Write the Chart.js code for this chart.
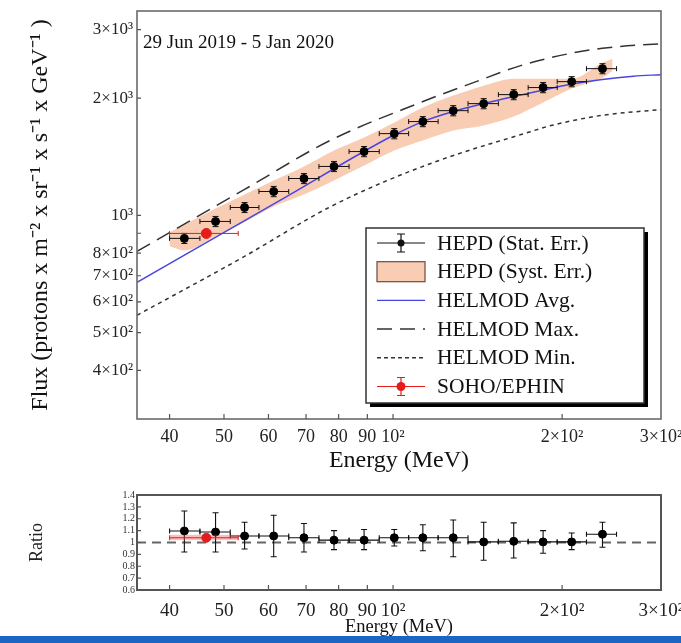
<!DOCTYPE html>
<html>
<head>
<meta charset="utf-8">
<script src="https://cdn.jsdelivr.net/npm/chart.js@4.4.1/dist/chart.umd.min.js"></script>
<style>
  html, body { margin: 0; padding: 0; background: #fff; }
  #wrap { position: relative; width: 681px; height: 643px; overflow: hidden; background: #fff; }
  #flux { position: absolute; left: 0; top: 0; }
  #ratio { position: absolute; left: 0; top: 480px; }
  #strip { position: absolute; left: 0; top: 636px; width: 681px; height: 7px; background: #1a66c2; }
</style>
</head>
<body>
<div id="wrap">
  <canvas id="flux" width="681" height="475"></canvas>
  <canvas id="ratio" width="681" height="156"></canvas>
  <div id="strip"></div>
</div>
<script>
const SERIF = "'Liberation Serif', 'Times New Roman', serif";

// HEPD proton flux, 29 Jun 2019 - 5 Jan 2020 (MeV, protons / m2 sr s GeV)
const hepdEnergy   = [42.5, 48.3, 54.4, 61.3, 69.4, 78.5, 88.8, 100.5, 113, 128, 145, 164, 185, 208, 236];
const hepdBinEdges = [40, 45.3, 51.3, 57.7, 65.2, 73.8, 83.5, 94.5, 106.6, 120.3, 136, 154, 174, 196, 221, 250];
const hepdFlux     = [873, 965, 1048, 1152, 1244, 1336, 1459, 1622, 1742, 1858, 1937, 2043, 2130, 2206, 2382];
const hepdStatErr  = [26, 29, 31, 35, 37, 40, 44, 49, 52, 56, 58, 61, 64, 66, 71];

// systematic uncertainty envelope
const systEnergy = [40, 42.5, 48.3, 54.4, 61.3, 69.4, 78.5, 88.8, 100.5, 113, 128, 145, 164, 185, 208, 236, 246];
const systHigh   = [905, 948, 1042, 1132, 1229, 1336, 1468, 1585, 1732, 1892, 2031, 2154, 2244, 2244, 2244, 2468, 2527];
const systLow    = [833, 813, 884, 960, 1054, 1132, 1229, 1343, 1468, 1557, 1652, 1702, 1794, 1949, 2117, 2259, 2354];

// HELMOD model curves
const avgEnergy = [35, 62.9, 100, 113, 128, 145, 164, 183, 205, 234, 268, 300];
const avgFlux   = [673, 1093, 1604, 1742, 1849, 1937, 2019, 2091, 2167, 2231, 2278, 2299];
const maxEnergy = [35, 54.4, 77.2, 111.8, 139, 168.7, 210, 241, 300];
const maxFlux   = [809, 1166, 1557, 1949, 2193, 2425, 2618, 2697, 2761];
const minEnergy = [35, 54.4, 76.3, 97.6, 128, 169, 191, 234, 300];
const minFlux   = [554, 785, 1042, 1229, 1425, 1613, 1701, 1805, 1870];

// SOHO/EPHIN
const sohoEnergy     = [46.5];
const sohoEnergyLow  = [40];
const sohoEnergyHigh = [53];
const sohoFlux       = [899];
const sohoFluxErr    = [12];

// Ratio data / HELMOD Avg.
const hepdRatio     = [1.097, 1.088, 1.055, 1.055, 1.04, 1.02, 1.02, 1.04, 1.04, 1.04, 1.005, 1.01, 1.005, 1.005, 1.07];
const hepdRatioUp   = [1.265, 1.25, 1.17, 1.23, 1.16, 1.10, 1.11, 1.11, 1.15, 1.19, 1.17, 1.165, 1.10, 1.08, 1.17];
const hepdRatioDown = [0.92, 0.92, 0.945, 0.88, 0.92, 0.94, 0.94, 0.97, 0.93, 0.88, 0.85, 0.87, 0.91, 0.94, 0.96];
const sohoRatio     = [1.04];
const sohoRatioLow  = [1.02];
const sohoRatioHigh = [1.065];

// axis ticks
const energyTicks      = [40, 50, 60, 70, 80, 90, 100, 200, 300];
const energyTickLabels = ['40', '50', '60', '70', '80', '90', '10²', '2×10²', '3×10²'];
const fluxTicks        = [400, 500, 600, 700, 800, 900, 1000, 2000, 3000];
const fluxTickLabels   = ['4×10²', '5×10²', '6×10²', '7×10²', '8×10²', '', '10³', '2×10³', '3×10³'];
const ratioTicks       = [0.6, 0.7, 0.8, 0.9, 1.0, 1.1, 1.2, 1.3, 1.4];
const ratioTickLabels  = ['0.6', '0.7', '0.8', '0.9', '1', '1.1', '1.2', '1.3', '1.4'];

const legendLabels = ['HEPD (Stat. Err.)', 'HEPD (Syst. Err.)', 'HELMOD Avg.', 'HELMOD Max.', 'HELMOD Min.', 'SOHO/EPHIN'];

const BLUE = '#4747e0';
const PEACH = 'rgba(243, 160, 112, 0.52)';
const RED = '#e41c1c';

const pts = (xs, ys) => xs.map((x, i) => ({ x, y: ys[i] }));

// keep the plot edges fixed regardless of edge tick label widths
const fixX = h => s => { s.height = h; s.paddingLeft = 0; s.paddingRight = 0; };
const fixY = w => s => { s.width = w; s.paddingTop = 0; s.paddingBottom = 0; };

// Error bars (and optional shaded boxes) drawn under each dataset's markers
const errorBars = {
  id: 'errorBars',
  beforeDatasetDraw(chart, args) {
    const ds = chart.data.datasets[args.index];
    const eb = ds.errorBars;
    if (!eb) return;
    const sx = chart.scales.x, sy = chart.scales.y, ctx = chart.ctx;
    const cap = eb.cap || 3;
    ctx.save();
    ds.data.forEach((p, i) => {
      const px = sx.getPixelForValue(p.x), py = sy.getPixelForValue(p.y);
      const x0 = sx.getPixelForValue(eb.xLow[i]), x1 = sx.getPixelForValue(eb.xHigh[i]);
      const y0 = sy.getPixelForValue(eb.yLow[i]), y1 = sy.getPixelForValue(eb.yHigh[i]);
      if (eb.boxLow) {
        const b0 = sy.getPixelForValue(eb.boxLow[i]), b1 = sy.getPixelForValue(eb.boxHigh[i]);
        ctx.fillStyle = eb.boxColor;
        ctx.fillRect(x0, b1, x1 - x0, b0 - b1);
      }
      ctx.strokeStyle = eb.color;
      ctx.lineWidth = eb.width || 1;
      ctx.beginPath();
      ctx.moveTo(x0, py); ctx.lineTo(x1, py);
      ctx.moveTo(x0, py - 2.5); ctx.lineTo(x0, py + 2.5);
      ctx.moveTo(x1, py - 2.5); ctx.lineTo(x1, py + 2.5);
      ctx.moveTo(px, y0); ctx.lineTo(px, y1);
      ctx.moveTo(px - cap, y0); ctx.lineTo(px + cap, y0);
      ctx.moveTo(px - cap, y1); ctx.lineTo(px + cap, y1);
      ctx.stroke();
    });
    ctx.restore();
  }
};

// Plot frame with short inward tick marks
const frame = {
  id: 'frame',
  afterDraw(chart, args, opts) {
    const { ctx, chartArea: a } = chart;
    ctx.save();
    ctx.strokeStyle = opts.color;
    ctx.lineWidth = opts.width;
    ctx.strokeRect(a.left, a.top, a.right - a.left, a.bottom - a.top);
    ctx.lineWidth = 1.2;
    ctx.strokeStyle = '#555';
    ctx.beginPath();
    chart.scales.x.ticks.forEach(t => {
      const px = chart.scales.x.getPixelForValue(t.value);
      if (px > a.left + 1 && px < a.right - 1) { ctx.moveTo(px, a.bottom); ctx.lineTo(px, a.bottom - 5); }
    });
    chart.scales.y.ticks.forEach(t => {
      const py = chart.scales.y.getPixelForValue(t.value);
      if (py > a.top + 1 && py < a.bottom - 1) { ctx.moveTo(a.left, py); ctx.lineTo(a.left + 4, py); }
    });
    ctx.stroke();
    ctx.restore();
  }
};

// Period label and boxed legend inside the flux panel
const fluxDecor = {
  id: 'fluxDecor',
  afterDraw(chart) {
    const { ctx, chartArea: a } = chart;
    ctx.save();
    ctx.fillStyle = '#111';
    ctx.font = '19px ' + SERIF;
    ctx.textBaseline = 'middle';
    ctx.textAlign = 'left';
    ctx.fillText('29 Jun 2019 - 5 Jan 2020', a.left + 6, a.top + 32);

    const bx = a.left + 229, by = a.top + 217, bw = 278, bh = 175;
    ctx.fillStyle = '#000';
    ctx.fillRect(bx + 4, by + 4, bw, bh);
    ctx.fillStyle = '#fff';
    ctx.fillRect(bx, by, bw, bh);
    ctx.strokeStyle = '#333';
    ctx.lineWidth = 1.5;
    ctx.strokeRect(bx, by, bw, bh);

    const sx0 = bx + 11, sx1 = bx + 59, sxm = (sx0 + sx1) / 2;
    const step = 28.7;
    legendLabels.forEach((label, i) => {
      const y = by + 15 + i * step;
      ctx.save();
      ctx.lineWidth = 1.2;
      if (i === 0 || i === 5) {
        const c = i === 0 ? '#111' : RED;
        ctx.strokeStyle = c; ctx.fillStyle = c;
        ctx.beginPath();
        ctx.moveTo(sx0, y); ctx.lineTo(sx1, y);
        ctx.moveTo(sxm, y - 9); ctx.lineTo(sxm, y + 9);
        ctx.moveTo(sxm - 4, y - 9); ctx.lineTo(sxm + 4, y - 9);
        ctx.moveTo(sxm - 4, y + 9); ctx.lineTo(sxm + 4, y + 9);
        ctx.stroke();
        ctx.beginPath(); ctx.arc(sxm, y, i === 0 ? 3.5 : 4.5, 0, Math.PI * 2); ctx.fill();
      } else if (i === 1) {
        ctx.fillStyle = PEACH;
        ctx.fillRect(sx0, y - 10, sx1 - sx0, 20);
        ctx.strokeStyle = '#6b4a3a';
        ctx.strokeRect(sx0, y - 10, sx1 - sx0, 20);
      } else {
        ctx.strokeStyle = i === 2 ? BLUE : '#333';
        ctx.lineWidth = i === 2 ? 1.4 : 1.5;
        if (i === 3) ctx.setLineDash([15, 8]);
        if (i === 4) ctx.setLineDash([4, 3]);
        ctx.beginPath(); ctx.moveTo(sx0, y); ctx.lineTo(sx1, y); ctx.stroke();
      }
      ctx.restore();
      ctx.fillStyle = '#111';
      ctx.font = '21.5px ' + SERIF;
      ctx.textBaseline = 'middle';
      ctx.fillText(label, bx + 71, y + 1);
    });
    ctx.restore();
  }
};

const baseLine = { pointRadius: 0, fill: false, tension: 0.35, cubicInterpolationMode: 'monotone' };

new Chart(document.getElementById('flux'), {
  type: 'line',
  data: {
    datasets: [
      { ...baseLine, label: 'syst-high', data: pts(systEnergy, systHigh), fill: '+1', backgroundColor: PEACH, borderWidth: 0, order: 10 },
      { ...baseLine, label: 'syst-low', data: pts(systEnergy, systLow), borderWidth: 0, order: 11 },
      { ...baseLine, label: 'HELMOD Avg.', data: pts(avgEnergy, avgFlux), borderColor: BLUE, borderWidth: 1.5, order: 5 },
      { ...baseLine, label: 'HELMOD Max.', data: pts(maxEnergy, maxFlux), borderColor: '#333', borderWidth: 1.5, borderDash: [15, 8], order: 6 },
      { ...baseLine, label: 'HELMOD Min.', data: pts(minEnergy, minFlux), borderColor: '#333', borderWidth: 1.5, borderDash: [4, 4], order: 7 },
      {
        label: 'HEPD', data: pts(hepdEnergy, hepdFlux), showLine: false, order: 1,
        pointRadius: 4, pointBackgroundColor: '#000', pointBorderColor: '#000',
        errorBars: {
          color: '#111', width: 1,
          xLow: hepdBinEdges.slice(0, -1), xHigh: hepdBinEdges.slice(1),
          yLow: hepdFlux.map((f, i) => f - hepdStatErr[i]), yHigh: hepdFlux.map((f, i) => f + hepdStatErr[i])
        }
      },
      {
        label: 'SOHO/EPHIN', data: pts(sohoEnergy, sohoFlux), showLine: false, order: 0,
        pointRadius: 5, pointBackgroundColor: RED, pointBorderColor: RED,
        errorBars: {
          color: RED, width: 1,
          xLow: sohoEnergyLow, xHigh: sohoEnergyHigh,
          yLow: sohoFlux.map((f, i) => f - sohoFluxErr[i]), yHigh: sohoFlux.map((f, i) => f + sohoFluxErr[i])
        }
      }
    ]
  },
  options: {
    responsive: false, animation: false, devicePixelRatio: 1,
    layout: { padding: { left: 0, top: 11, right: 20, bottom: 0 } },
    plugins: { legend: { display: false }, tooltip: { enabled: false }, frame: { color: '#6a6a6a', width: 1.6 } },
    scales: {
      x: {
        type: 'logarithmic', min: 35, max: 300,
        afterBuildTicks: s => { s.ticks = energyTicks.map(v => ({ value: v })); },
        afterFit: fixX(56),
        ticks: { autoSkip: false, maxRotation: 0, padding: 7, color: '#222', font: { family: SERIF, size: 18 },
                 callback: (v, i) => energyTickLabels[i] },
        grid: { display: false, drawTicks: false }, border: { display: false },
        title: { display: true, text: 'Energy (MeV)', color: '#111', font: { family: SERIF, size: 24 }, padding: { top: 0, bottom: 0 } }
      },
      y: {
        type: 'logarithmic', min: 300, max: 3350,
        afterBuildTicks: s => { s.ticks = fluxTicks.map(v => ({ value: v })); },
        afterFit: fixY(137),
        ticks: { autoSkip: false, padding: 4, color: '#222', font: { family: SERIF, size: 17 },
                 callback: (v, i) => fluxTickLabels[i] },
        grid: { display: false, drawTicks: false }, border: { display: false },
        title: { display: true, text: 'Flux (protons x m⁻² x sr⁻¹ x s⁻¹ x GeV⁻¹ )', color: '#111', font: { family: SERIF, size: 24 }, padding: { top: 26, bottom: 0 } }
      }
    }
  },
  plugins: [errorBars, frame, fluxDecor]
});

new Chart(document.getElementById('ratio'), {
  type: 'line',
  data: {
    datasets: [
      { ...baseLine, label: 'unity', data: pts([35, 300], [1, 1]), borderColor: '#666', borderWidth: 1.8, borderDash: [9, 6], tension: 0, order: 9 },
      {
        label: 'HEPD', data: pts(hepdEnergy, hepdRatio), showLine: false, order: 1,
        pointRadius: 4, pointBackgroundColor: '#000', pointBorderColor: '#000',
        errorBars: {
          color: '#111', width: 1.1, cap: 3,
          xLow: hepdBinEdges.slice(0, -1), xHigh: hepdBinEdges.slice(1),
          yLow: hepdRatioDown, yHigh: hepdRatioUp
        }
      },
      {
        label: 'SOHO/EPHIN', data: pts(sohoEnergy, sohoRatio), showLine: false, order: 0,
        pointRadius: 4.5, pointBackgroundColor: RED, pointBorderColor: RED,
        errorBars: {
          color: RED, width: 1,
          xLow: sohoEnergyLow, xHigh: sohoEnergyHigh,
          yLow: sohoRatioLow, yHigh: sohoRatioHigh,
          boxLow: sohoRatioLow, boxHigh: sohoRatioHigh, boxColor: 'rgba(240, 70, 70, 0.35)'
        }
      }
    ]
  },
  options: {
    responsive: false, animation: false, devicePixelRatio: 1,
    layout: { padding: { left: 0, top: 15, right: 20, bottom: 0 } },
    plugins: { legend: { display: false }, tooltip: { enabled: false }, frame: { color: '#555', width: 2 } },
    scales: {
      x: {
        type: 'logarithmic', min: 35, max: 300,
        afterBuildTicks: s => { s.ticks = energyTicks.map(v => ({ value: v })); },
        afterFit: fixX(46),
        ticks: { autoSkip: false, maxRotation: 0, padding: 10, color: '#222', font: { family: SERIF, size: 19 },
                 callback: (v, i) => energyTickLabels[i] },
        grid: { display: false, drawTicks: false }, border: { display: false },
        title: { display: true, text: 'Energy (MeV)', color: '#111', font: { family: SERIF, size: 18.5 }, padding: { top: 0, bottom: -2 } }
      },
      y: {
        type: 'linear', min: 0.6, max: 1.4,
        afterBuildTicks: s => { s.ticks = ratioTicks.map(v => ({ value: v })); },
        afterFit: fixY(137),
        ticks: { autoSkip: false, padding: 2, color: '#333', font: { family: SERIF, size: 10 }, lineHeight: 1,
                 callback: (v, i) => ratioTickLabels[i] },
        grid: { display: false, drawTicks: false }, border: { display: false },
        title: { display: true, text: 'Ratio', color: '#222', font: { family: SERIF, size: 18 }, padding: { top: 26, bottom: 0 } }
      }
    }
  },
  plugins: [errorBars, frame]
});
</script>
</body>
</html>
